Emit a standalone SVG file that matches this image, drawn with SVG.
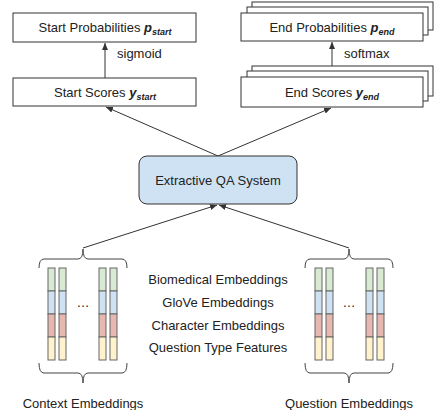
<svg xmlns="http://www.w3.org/2000/svg" width="436" height="410" viewBox="0 0 436 410">
<defs>
<style>
.box{fill:#fff;stroke:#333;stroke-width:1}
.t{font-family:"Liberation Sans",Arial,sans-serif;font-size:13px;fill:#222}
.m{text-anchor:middle}
.v{font-weight:bold;font-style:italic}
.s{font-size:9px;font-weight:bold;font-style:italic}
.ln{stroke:#333;stroke-width:1;fill:none}
.br{stroke:#444;stroke-width:1;fill:none}
.g{fill:#d9ead3;stroke:#666;stroke-width:1}
.b{fill:#cfe2f3;stroke:#666;stroke-width:1}
.r{fill:#e6b8af;stroke:#666;stroke-width:1}
.y{fill:#fff2cc;stroke:#666;stroke-width:1}
</style>
<marker id="ah" markerWidth="8" markerHeight="8" refX="7" refY="4" orient="auto" markerUnits="userSpaceOnUse">
<path d="M0,1 L7,4 L0,7 z" fill="#333"/>
</marker>
<g id="bar">
<rect class="g" x="0" y="0" width="7" height="23"/>
<rect class="b" x="0" y="23" width="7" height="23"/>
<rect class="r" x="0" y="46" width="7" height="23"/>
<rect class="y" x="0" y="69" width="7" height="23"/>
</g>
</defs>

<g id="connectors">
<line class="ln" x1="105" y1="78" x2="105" y2="43" marker-end="url(#ah)"/>
<line class="ln" x1="332" y1="78" x2="332" y2="42" marker-end="url(#ah)"/>
<line class="ln" x1="218" y1="156" x2="106" y2="107" marker-end="url(#ah)"/>
<line class="ln" x1="218" y1="156" x2="331" y2="108" marker-end="url(#ah)"/>
<line class="ln" x1="83" y1="248" x2="217" y2="205" marker-end="url(#ah)"/>
<line class="ln" x1="349" y1="248" x2="219" y2="205" marker-end="url(#ah)"/>
<text class="t" x="117" y="58">sigmoid</text>
<text class="t" x="344" y="58">softmax</text>
</g>

<g id="start-prob">
<rect class="box" x="13" y="13" width="183" height="29"/>
<text class="t m" x="105" y="32">Start Probabilities <tspan class="v">p</tspan><tspan class="s" dy="3">start</tspan></text>
</g>

<g id="start-scores">
<rect class="box" x="13" y="78" width="183" height="28"/>
<text class="t m" x="105" y="97">Start Scores <tspan class="v">y</tspan><tspan class="s" dy="3">start</tspan></text>
</g>

<g id="end-prob">
<rect class="box" x="252" y="2" width="181" height="28"/>
<rect class="box" x="247" y="7" width="181" height="28"/>
<rect class="box" x="241" y="13" width="182" height="28"/>
<text class="t m" x="332" y="32">End Probabilities <tspan class="v">p</tspan><tspan class="s" dy="3">end</tspan></text>
</g>

<g id="end-scores">
<rect class="box" x="252" y="66" width="181" height="30"/>
<rect class="box" x="247" y="71" width="181" height="30"/>
<rect class="box" x="241" y="77" width="182" height="30"/>
<text class="t m" x="332" y="97">End Scores <tspan class="v">y</tspan><tspan class="s" dy="3">end</tspan></text>
</g>

<g id="qa-system">
<rect x="139" y="156" width="158" height="48" rx="8" ry="8" fill="#cfe2f3" stroke="#333" stroke-width="1"/>
<text class="t m" x="218" y="185">Extractive QA System</text>
</g>

<g id="context-embeddings">
<path class="br" d="M39,268 Q39,259 44,259 L78,259 Q83,259 83,249 Q83,259 88,259 L122,259 Q127,259 127,268"/>
<use href="#bar" x="48" y="268"/>
<use href="#bar" x="59" y="268"/>
<use href="#bar" x="99" y="268"/>
<use href="#bar" x="110" y="268"/>
<text class="t m" x="83" y="307">…</text>
<path class="br" d="M39,363 Q39,373 44,373 L78,373 Q83,373 83,383 Q83,373 88,373 L122,373 Q127,373 127,363"/>
<text class="t m" x="83" y="408">Context Embeddings</text>
</g>

<g id="question-embeddings">
<path class="br" d="M305,268 Q305,259 310,259 L344,259 Q349,259 349,249 Q349,259 354,259 L388,259 Q393,259 393,268"/>
<use href="#bar" x="315" y="268"/>
<use href="#bar" x="326" y="268"/>
<use href="#bar" x="366" y="268"/>
<use href="#bar" x="377" y="268"/>
<text class="t m" x="349" y="307">…</text>
<path class="br" d="M305,363 Q305,373 310,373 L344,373 Q349,373 349,383 Q349,373 354,373 L388,373 Q393,373 393,363"/>
<text class="t m" x="349" y="408">Question Embeddings</text>
</g>

<g id="legend">
<text class="t m" x="218" y="284">Biomedical Embeddings</text>
<text class="t m" x="218" y="307">GloVe Embeddings</text>
<text class="t m" x="218" y="330">Character Embeddings</text>
<text class="t m" x="218" y="352">Question Type Features</text>
</g>
</svg>
